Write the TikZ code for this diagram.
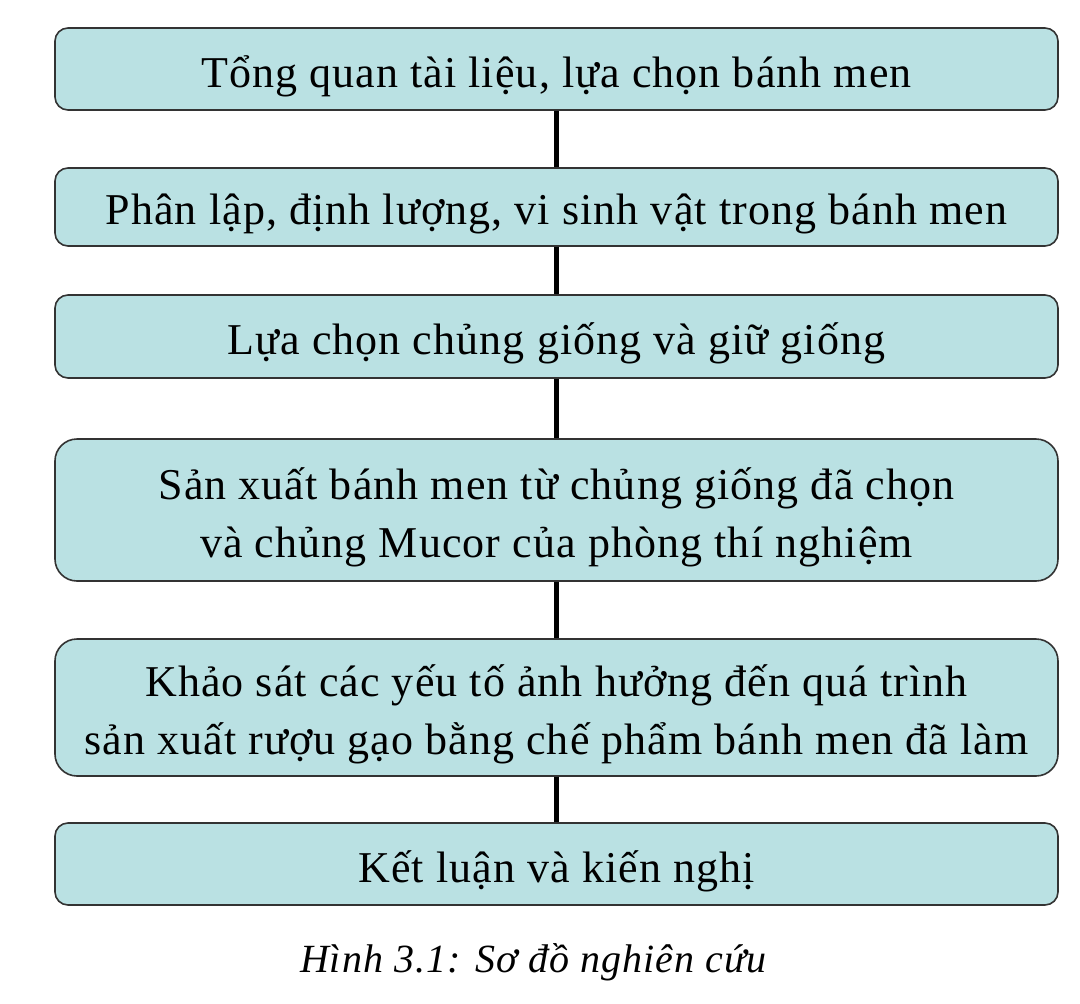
\documentclass[tikz,border=0pt]{standalone}
\usepackage{fontspec}
\setmainfont{Liberation Serif}[LetterSpace=2.5]
\begin{document}
\begin{tikzpicture}[x=1pt,y=1pt,
  stepbox/.style={draw=black!80, line width=1.6pt, fill=boxfill, minimum width=1003pt, inner sep=0pt},
  steptext/.style={align=center, font=\fontsize{44}{58}\selectfont, inner sep=0pt},
  link/.style={line width=5pt, black}]
\definecolor{boxfill}{RGB}{186,225,227}
\useasboundingbox (0,0) rectangle (1080,-1004);
\node[stepbox, minimum height=82pt, rounded corners=13pt] (b1) at (556.5,-69) {};
\node[stepbox, minimum height=78pt, rounded corners=13pt] (b2) at (556.5,-207) {};
\node[stepbox, minimum height=83pt, rounded corners=13pt] (b3) at (556.5,-336.5) {};
\node[stepbox, minimum height=142pt, rounded corners=22pt] (b4) at (556.5,-510) {};
\node[stepbox, minimum height=137pt, rounded corners=22pt] (b5) at (556.5,-707.5) {};
\node[stepbox, minimum height=82pt, rounded corners=13pt] (b6) at (556.5,-864) {};
\node[steptext] (t1) at ([yshift=-7pt]b1.center) {Tổng quan tài liệu, lựa chọn bánh men};
\node[steptext] (t2) at ([yshift=-7pt]b2.center) {Phân lập, định lượng, vi sinh vật trong bánh men};
\node[steptext] (t3) at ([yshift=-7pt]b3.center) {Lựa chọn chủng giống và giữ giống};
\node[steptext] (t4) at ([yshift=-7pt]b4.center) {Sản xuất bánh men từ chủng giống đã chọn\\và chủng Mucor của phòng thí nghiệm};
\node[steptext] (t5) at ([yshift=-7pt]b5.center) {Khảo sát các yếu tố ảnh hưởng đến quá trình\\sản xuất rượu gạo bằng chế phẩm bánh men đã làm};
\node[steptext] (t6) at ([yshift=-7pt]b6.center) {Kết luận và kiến nghị};
\draw[link] (b1) -- (b2);
\draw[link] (b2) -- (b3);
\draw[link] (b3) -- (b4);
\draw[link] (b4) -- (b5);
\draw[link] (b5) -- (b6);
\node[font=\fontsize{40}{48}\selectfont\itshape, inner sep=0pt] (cap) at (533.5,-962) {Hình 3.1: Sơ đồ nghiên cứu};
\end{tikzpicture}
\end{document}
